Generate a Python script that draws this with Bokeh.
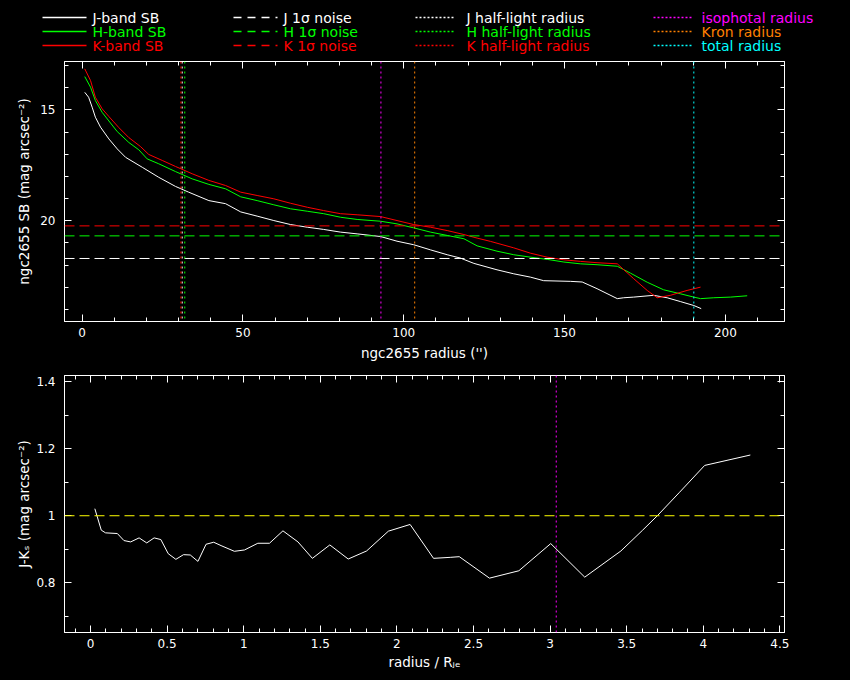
from bokeh.plotting import figure
from bokeh.models import (Range1d, LinearAxis, SingleIntervalTicker, Span,
                          CustomJSTickFormatter, GlobalInlineStyleSheet)
from bokeh.layouts import column, row
from bokeh.embed import file_html
from bokeh.resources import INLINE
from bokeh.core.properties import value

# ---------------- data ----------------
j_r = [0.8, 2.0, 3.1, 4.1, 5.7, 8.3, 10.9, 13.5, 18.7, 23.8, 29.0, 33.1, 39.4, 44.6, 49.3,
       54.4, 59.6, 64.8, 70.0, 75.1, 80.3, 85.5, 92.8, 97.9, 103.1, 108.3, 113.5, 117.6,
       121.8, 129.0, 134.2, 139.4, 143.5, 151.8, 155.5, 160.1, 166.4, 168.4, 171.5, 177.7,
       181.9, 186.0, 190.2, 192.5]
j_sb = [14.21, 14.43, 14.88, 15.33, 15.78, 16.31, 16.76, 17.14, 17.59, 18.04, 18.45, 18.71,
        19.09, 19.23, 19.60, 19.79, 19.99, 20.17, 20.29, 20.39, 20.51, 20.59, 20.71, 20.92,
        21.08, 21.31, 21.53, 21.68, 21.92, 22.21, 22.39, 22.54, 22.70, 22.73, 22.76, 23.06,
        23.51, 23.47, 23.44, 23.36, 23.47, 23.64, 23.82, 23.96]

h_r = [0.8, 2.6, 4.1, 6.2, 8.3, 10.9, 14.5, 17.6, 20.2, 23.8, 29.0, 34.2, 39.4, 44.6, 49.3,
       54.4, 59.6, 64.8, 70.0, 75.1, 80.3, 85.5, 92.8, 97.9, 103.1, 108.3, 113.5, 118.7,
       122.8, 129.0, 134.2, 139.4, 144.6, 149.8, 154.9, 160.1, 166.4, 170.5, 175.7, 180.8,
       186.0, 190.2, 192.3, 196.4, 201.6, 206.8]
h_sb = [13.50, 13.98, 14.58, 15.11, 15.50, 15.98, 16.47, 16.80, 17.21, 17.43, 17.78, 18.11,
        18.36, 18.56, 18.92, 19.09, 19.28, 19.46, 19.57, 19.68, 19.84, 19.94, 20.02, 20.14,
        20.32, 20.51, 20.66, 20.81, 21.13, 21.37, 21.53, 21.64, 21.74, 21.86, 21.94, 21.98,
        22.05, 22.36, 22.77, 23.11, 23.29, 23.44, 23.51, 23.47, 23.44, 23.38]

k_r = [0.8, 2.6, 4.1, 6.2, 8.3, 11.4, 14.5, 18.1, 20.7, 24.9, 29.0, 34.2, 39.4, 44.6, 49.3,
       54.4, 59.6, 64.8, 70.0, 75.1, 80.3, 85.5, 92.8, 97.9, 103.1, 108.3, 113.5, 118.7,
       122.8, 127.0, 134.2, 139.4, 144.6, 149.8, 154.9, 160.1, 166.4, 171.5, 175.7, 178.8,
       182.9, 188.1, 192.3]
k_sb = [13.15, 13.68, 14.43, 14.95, 15.30, 15.80, 16.25, 16.65, 17.01, 17.28, 17.55, 17.88,
        18.18, 18.41, 18.71, 18.86, 19.01, 19.21, 19.39, 19.54, 19.68, 19.73, 19.81, 19.99,
        20.17, 20.29, 20.44, 20.62, 20.78, 20.93, 21.22, 21.46, 21.64, 21.76, 21.83, 21.89,
        21.94, 22.61, 23.14, 23.47, 23.36, 23.14, 22.99]

noise_j, noise_h, noise_k = 21.70, 20.68, 20.23
rhalf_j, rhalf_h, rhalf_k = 31.1, 31.9, 30.7
r_iso, r_kron, r_tot = 92.9, 103.4, 190.2

jk_x = [0.028, 0.070, 0.098, 0.175, 0.218, 0.262, 0.317, 0.367, 0.415, 0.459, 0.507, 0.557,
        0.607, 0.651, 0.701, 0.754, 0.804, 0.852, 0.939, 1.005, 1.092, 1.168, 1.256, 1.354,
        1.448, 1.562, 1.682, 1.802, 1.944, 2.086, 2.239, 2.348, 2.407, 2.604, 2.796, 3.004,
        3.226, 3.462, 3.604, 3.702, 3.845, 4.009, 4.307]
jk_y = [1.021, 0.957, 0.949, 0.947, 0.926, 0.922, 0.934, 0.919, 0.934, 0.929, 0.887, 0.870,
        0.884, 0.883, 0.864, 0.915, 0.921, 0.911, 0.894, 0.898, 0.918, 0.918, 0.955, 0.922,
        0.873, 0.913, 0.871, 0.895, 0.954, 0.974, 0.873, 0.876, 0.878, 0.814, 0.836, 0.917,
        0.817, 0.895, 0.957, 1.001, 1.070, 1.150, 1.181]
jk_ref = 1.0
jk_iso = 3.04

legend_labels = [["J-band SB", "H-band SB", "K-band SB"],
                 ["J 1\u03c3 noise", "H 1\u03c3 noise", "K 1\u03c3 noise"],
                 ["J half-light radius", "H half-light radius", "K half-light radius"],
                 ["isophotal radius", "Kron radius", "total radius"]]
legend_colors = [["#ffffff", "#00ff00", "#ff0000"],
                 ["#ffffff", "#00ff00", "#ff0000"],
                 ["#ffffff", "#00ff00", "#ff0000"],
                 ["#ff00ff", "#ff8000", "#00ffff"]]

FONT = "DejaVu Sans"
W = 834
DASH = "10 5"
DOT = "2 3"

fmt_code = "return String(parseFloat(tick.toFixed(4)));"


def style(p, xint, xminor, yint, yminor):
    p.background_fill_color = "black"
    p.border_fill_color = "black"
    p.outline_line_color = "white"
    p.xgrid.visible = False
    p.ygrid.visible = False
    bottom, left = p.below[0], p.left[0]
    bottom.ticker = SingleIntervalTicker(interval=xint, num_minor_ticks=xminor)
    left.ticker = SingleIntervalTicker(interval=yint, num_minor_ticks=yminor)
    top = LinearAxis(ticker=SingleIntervalTicker(interval=xint, num_minor_ticks=xminor))
    right = LinearAxis(ticker=SingleIntervalTicker(interval=yint, num_minor_ticks=yminor))
    p.add_layout(top, "above")
    p.add_layout(right, "right")
    for ax in (bottom, left, top, right):
        ax.axis_line_color = "white"
        ax.major_tick_line_color = "white"
        ax.minor_tick_line_color = "white"
        ax.major_tick_in = 7
        ax.major_tick_out = 0
        ax.minor_tick_in = 4
        ax.minor_tick_out = 0
        ax.major_label_text_color = "white"
        ax.major_label_text_font = FONT
        ax.major_label_text_font_size = "12px"
        ax.axis_label_text_color = "white"
        ax.axis_label_text_font = FONT
        ax.axis_label_text_font_size = "13.5px"
        ax.axis_label_text_font_style = "normal"
        ax.formatter = CustomJSTickFormatter(code=fmt_code)
    for ax in (top, right):
        ax.major_label_text_color = None
        ax.major_label_text_font_size = "1px"
        ax.major_label_standoff = 0
    bottom.major_label_standoff = 6
    left.major_label_standoff = 9
    return bottom, left


# ---------------- legend strip ----------------
leg = figure(width=W, height=48, x_range=Range1d(0, W), y_range=Range1d(0, 48),
             x_axis_type=None, y_axis_type=None, toolbar_location=None,
             output_backend="svg", min_border=0)
leg.background_fill_color = "black"
leg.border_fill_color = "black"
leg.outline_line_color = None
col_line_x = [(34, 78), (225, 269), (407, 447), (645, 685)]
col_text_x = [84, 275, 458, 693]
col_dash = [None, "8 6", "2 2", "2 2"]
row_y = [39, 25, 11]
for c in range(4):
    for r in range(3):
        kw = {}
        if col_dash[c]:
            kw["line_dash"] = col_dash[c]
        leg.line(list(col_line_x[c]), [row_y[r], row_y[r]], line_color=legend_colors[c][r],
                 line_width=1.5, **kw)
        leg.text([col_text_x[c]], [row_y[r]], text=[legend_labels[c][r]],
                 text_color=legend_colors[c][r], text_font=value(FONT),
                 text_font_size="14px", text_baseline="middle", text_align="left")

# ---------------- top panel ----------------
p1 = figure(width=W, height=314, x_range=Range1d(-5.5, 218.4), y_range=Range1d(24.54, 12.82),
            toolbar_location=None, output_backend="svg",
            min_border_left=56, min_border_right=58, min_border_top=5, min_border_bottom=49)
b1, l1 = style(p1, 50, 5, 5, 5)
b1.axis_label = "ngc2655 radius ('')"
b1.axis_label_standoff = 5
l1.axis_label = "ngc2655 SB (mag arcsec\u207b\u00b2)"
l1.axis_label_standoff = 5

for loc, colr in [(noise_j, "#ffffff"), (noise_h, "#00ff00"), (noise_k, "#ff0000")]:
    p1.add_layout(Span(location=loc, dimension="width", line_color=colr, line_dash=DASH, line_width=1))
for loc, colr in [(rhalf_j, "#ffffff"), (rhalf_h, "#00ff00"), (rhalf_k, "#ff0000"),
                  (r_iso, "#ff00ff"), (r_kron, "#ff8000"), (r_tot, "#00ffff")]:
    p1.add_layout(Span(location=loc, dimension="height", line_color=colr, line_dash=DOT, line_width=1))

p1.line(j_r, j_sb, line_color="#ffffff", line_width=1)
p1.line(h_r, h_sb, line_color="#00ff00", line_width=1)
p1.line(k_r, k_sb, line_color="#ff0000", line_width=1)

# ---------------- bottom panel ----------------
p2 = figure(width=W, height=302, x_range=Range1d(-0.17, 4.53), y_range=Range1d(0.652, 1.418),
            toolbar_location=None, output_backend="svg",
            min_border_left=56, min_border_right=58, min_border_top=5, min_border_bottom=37)
b2, l2 = style(p2, 0.5, 5, 0.2, 2)
l2.axis_label = "J-K\u209b (mag arcsec\u207b\u00b2)"
l2.axis_label_standoff = 1
b2.axis_label = "radius / R\u2c7c\u2091"
b2.axis_label_standoff = 3

p2.add_layout(Span(location=jk_ref, dimension="width", line_color="#ffff00", line_dash=DASH, line_width=1))
p2.add_layout(Span(location=jk_iso, dimension="height", line_color="#ff00ff", line_dash=DOT, line_width=1))
p2.line(jk_x, jk_y, line_color="#ffffff", line_width=1)

layout = column(row(leg), column(p1, p2), stylesheets=[GlobalInlineStyleSheet(
    css="html, body {background:#000 !important; margin:0 !important; padding:0 !important;} "
        "body {padding:8px !important;}")])
open("out.html", "w").write(file_html(layout, INLINE))
